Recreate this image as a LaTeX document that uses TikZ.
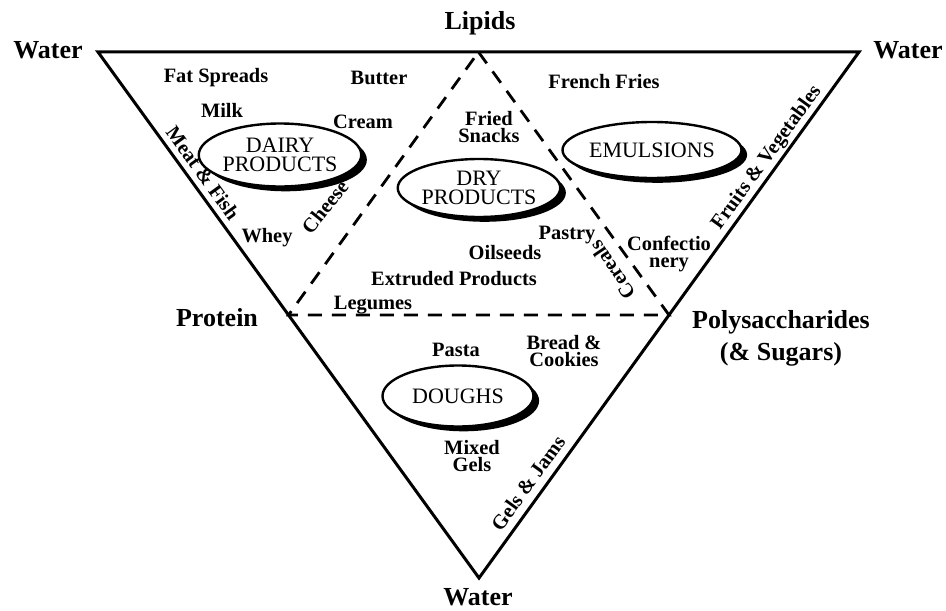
\documentclass[tikz,border=0pt]{standalone}
\usepackage{fontspec}
\setmainfont{Liberation Serif}
\usetikzlibrary{calc,shapes.geometric,shadows}

\begin{document}
\begin{tikzpicture}[x=0.5pt, y=-0.5pt,
  corner/.style={font=\fontsize{13}{16}\selectfont\bfseries, align=center, inner sep=0pt},
  item/.style={font=\fontsize{10.2}{8.6}\selectfont\bfseries, align=center, inner sep=0pt},
  food/.style={ellipse, draw, line width=1.2pt, fill=white, inner sep=0pt,
    font=\fontsize{11}{9.4}\selectfont, align=center,
    drop shadow={shadow xshift=2.8pt, shadow yshift=-2.4pt, opacity=1, fill=black}},
  edge/.style={line width=1.5pt, line join=miter},
  mid/.style={line width=1.4pt, dash pattern=on 7pt off 5pt}]
  \useasboundingbox (0,0) rectangle (946,610);
  % outer triangle
  \coordinate (tl) at (98,52);
  \coordinate (tr) at (859,52);
  \coordinate (bt) at (479,578);
  \coordinate (ml) at ($(tl)!.5!(bt)$);
  \coordinate (mr) at ($(tr)!.5!(bt)$);
  \coordinate (mt) at ($(tl)!.5!(tr)$);
  \draw[edge] (tl) -- (tr) -- (bt) -- cycle;
  \draw[mid] (mt) -- (mr) -- (ml) -- cycle;
  % corner labels
  \node[corner] (wl) at (48,50) {Water};
  \node[corner] (lip) at (480,23) {Lipids};
  \node[corner] (wr) at (908,50) {Water};
  \node[corner] (pro) at (217,318) {Protein};
  \node[corner] (poly) at (781,338) {Polysaccharides\\(\& Sugars)};
  \node[corner] (wb) at (478,597) {Water};
  % food groups
  \node[food, minimum width=71.5pt, minimum height=31.5pt] (dairy) at (280,155) {DAIRY\\PRODUCTS};
  \node[food, minimum width=75pt, minimum height=29pt] (dry) at (479,188) {DRY\\PRODUCTS};
  \node[food, minimum width=89.5pt, minimum height=28pt] (emul) at (652,150) {EMULSIONS};
  \node[food, minimum width=75.5pt, minimum height=30.5pt] (dough) at (458,396) {DOUGHS};
  % products
  \node[item] (fat) at (216,78) {Fat Spreads};
  \node[item] (butter) at (379,78) {Butter};
  \node[item] (milk) at (222,110) {Milk};
  \node[item] (cream) at (363,122) {Cream};
  \node[item, rotate=-54] (meat) at (203,173) {Meat \& Fish};
  \node[item, rotate=51] (cheese) at (325,207) {Cheese};
  \node[item] (whey) at (267,238) {Whey};
  \node[item] (fried) at (489,127) {Fried\\Snacks};
  \node[item] (fries) at (604,82) {French Fries};
  \node[item, rotate=54] (fruit) at (767,158) {Fruits \& Vegetables};
  \node[item] (pastry) at (567,235) {Pastry};
  \node[item] (oil) at (505,253) {Oilseeds};
  \node[item, rotate=124] (cereal) at (612,270) {Cereals};
  \node[item] (conf) at (669,254) {Confectio\\nery};
  \node[item] (extr) at (454,279) {Extruded Products};
  \node[item] (leg) at (373,305) {Legumes};
  \node[item] (pasta) at (456,350) {Pasta};
  \node[item] (bread) at (564,351) {Bread \&\\Cookies};
  \node[item] (mixed) at (472,456) {Mixed\\Gels};
  \node[item, rotate=54] (gels) at (528,483) {Gels \& Jams};
\end{tikzpicture}
\end{document}
